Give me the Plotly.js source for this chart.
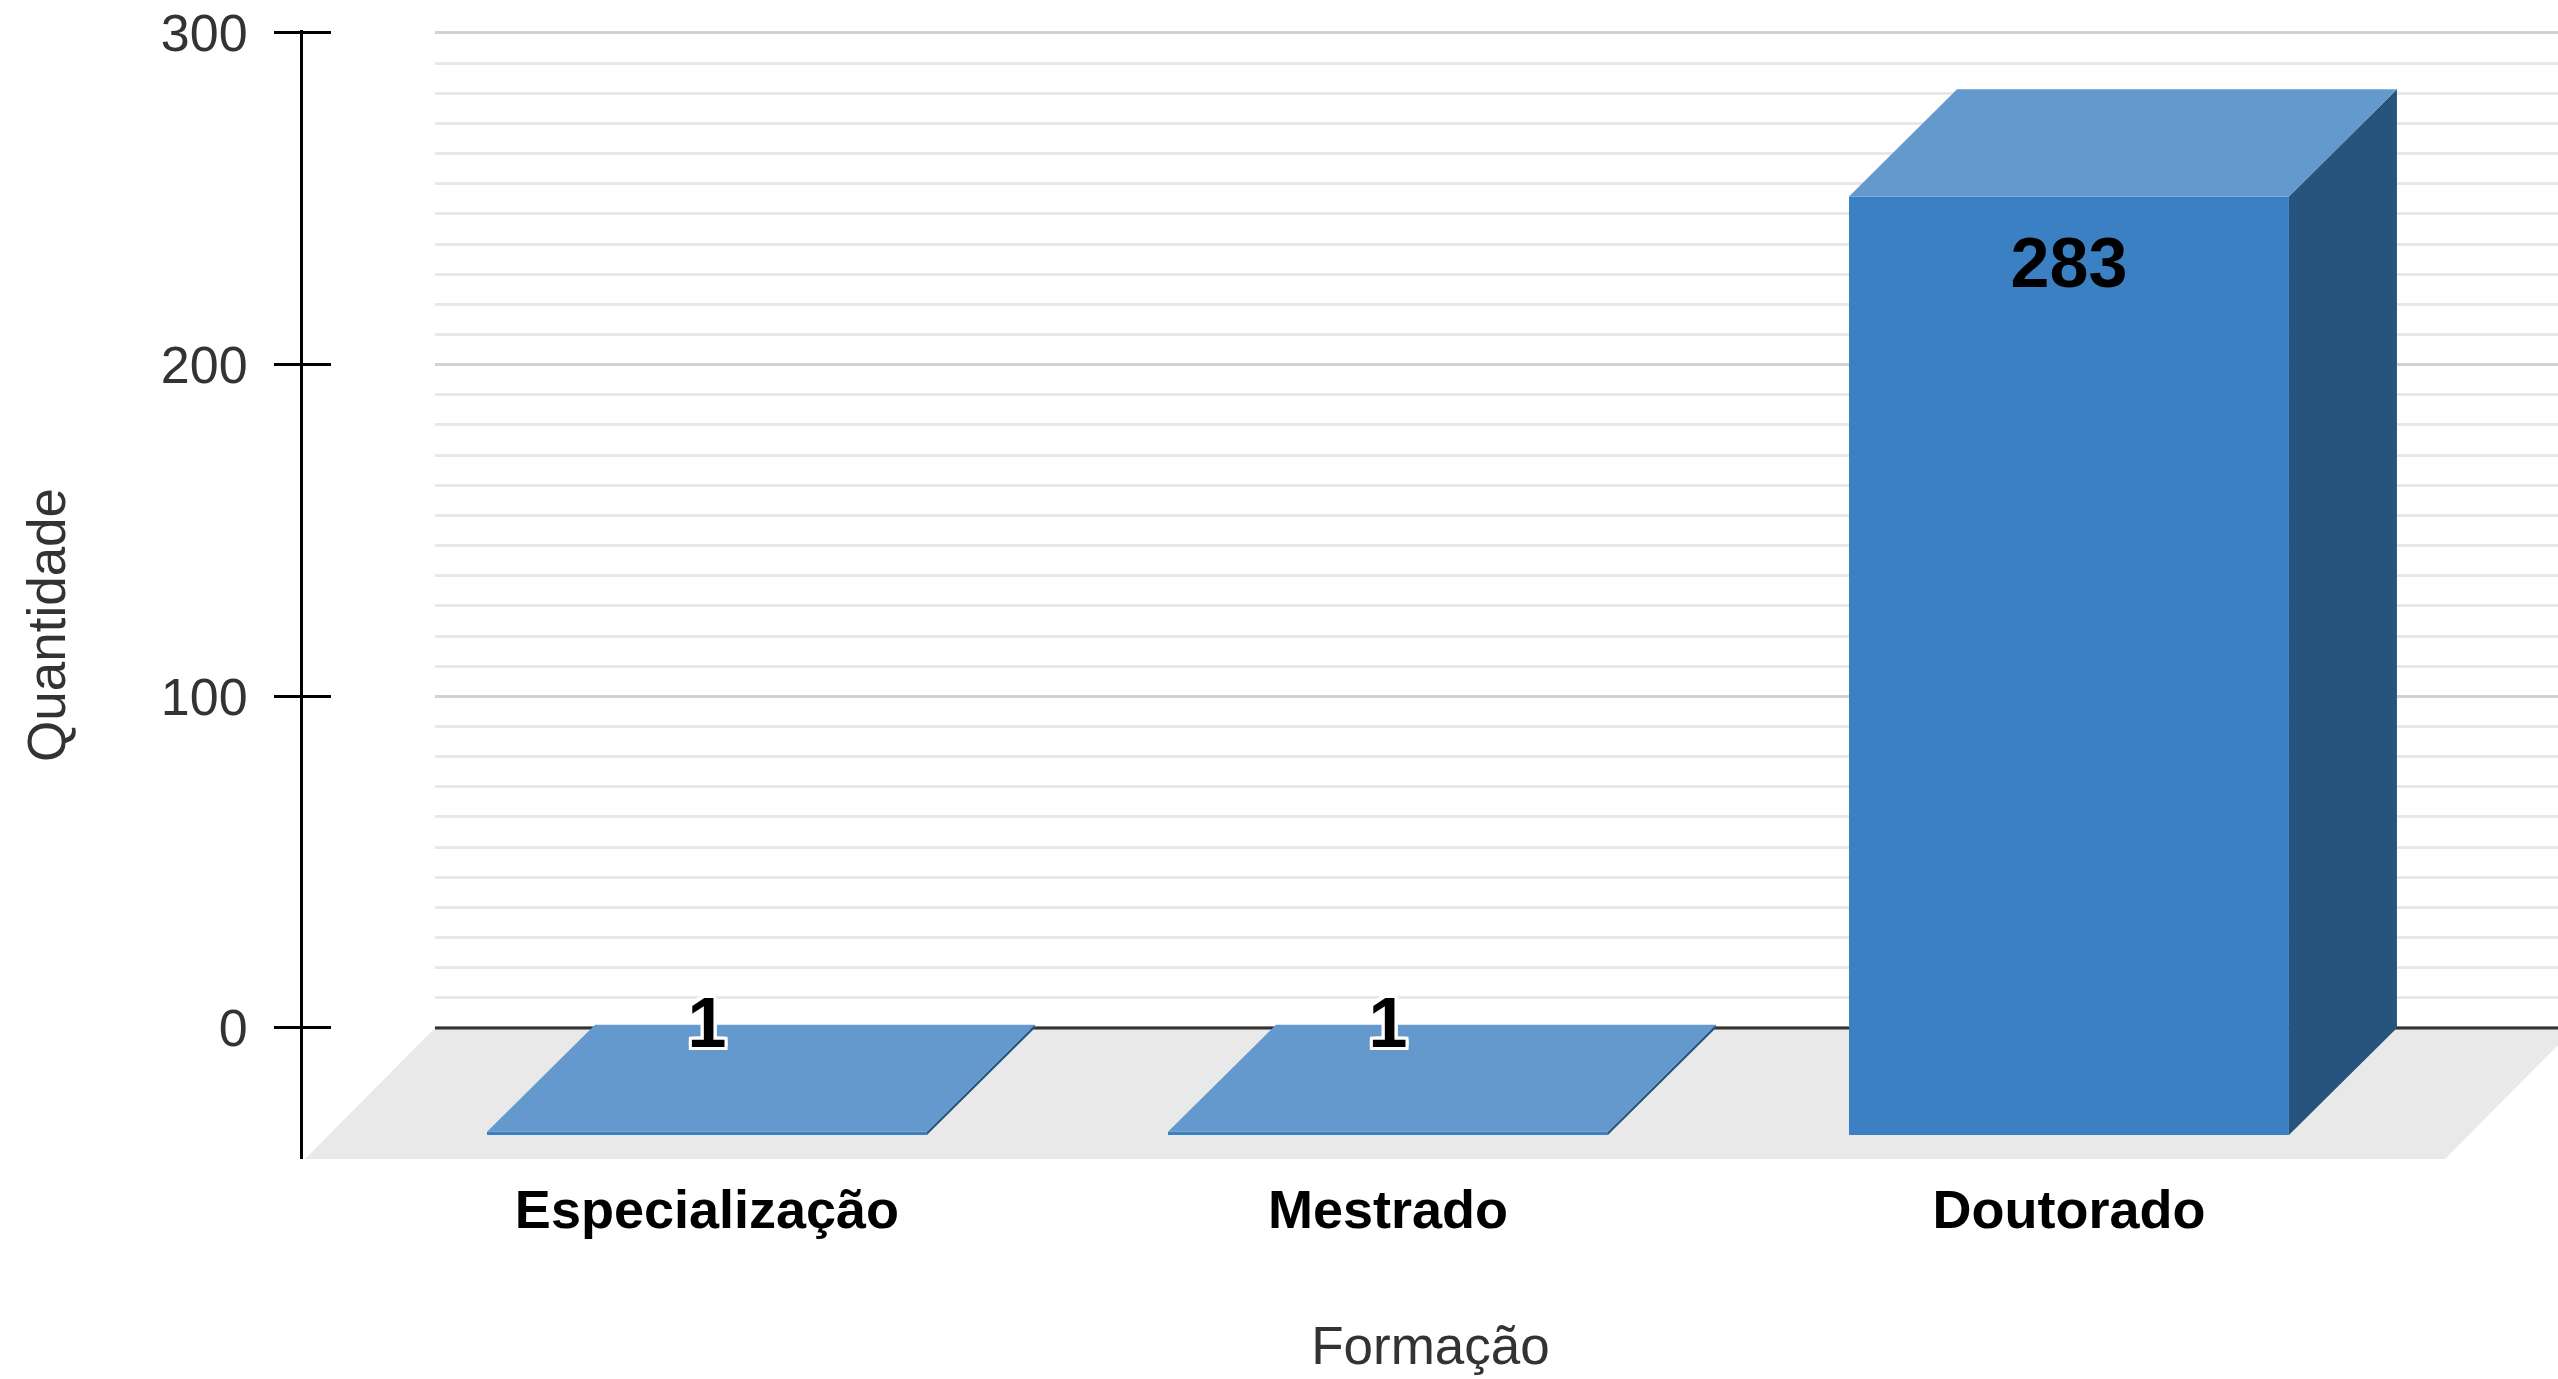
<!DOCTYPE html>
<html>
<head>
<meta charset="utf-8">
<script src="https://cdn.plot.ly/plotly-3.0.1.min.js"></script>
<style>html,body{margin:0;padding:0;background:#fff;}#chart{width:2558px;height:1379px;}</style>
</head>
<body>
<div id="chart"></div>
<script>
// ---- data ----
const categories = ['Especialização', 'Mestrado', 'Doutorado'];
const values = [1, 1, 283];
const yTickVals = [0, 100, 200, 300];
const xTitle = 'Formação';
const yTitle = 'Quantidade';

// ---- 3D look (style / geometry constants, in axis units) ----
const X_RANGE = [-0.7518, 2.5595];
const Y_RANGE = [-39.5, 300.9];
const BAR_W = 0.646;      // column width
const DX = 0.1586;        // oblique depth shift of a column (x)
const DY = 32.3;          // oblique depth shift of a column (y)
const FLOOR_DX = 0.191, FLOOR_DY = 39.5;
const WALL_X = -0.558;    // left edge of back wall
const FLOOR_RIGHT = 2.3935;
const C_FRONT = '#3b80c2', C_TOP = '#6499ce', C_SIDE = '#26547d';
const FONT = 'Liberation Sans, Arial, sans-serif';

function poly(list) {
  const x = [], y = [];
  list.forEach(p => { p.forEach(q => { x.push(q[0]); y.push(q[1]); }); x.push(p[0][0]); y.push(p[0][1]); x.push(null); y.push(null); });
  return {x, y};
}
function face(list, color, lw) {
  const p = poly(list);
  return {type: 'scatter', mode: 'lines', x: p.x, y: p.y, fill: 'toself', fillcolor: color,
          line: {color: color, width: lw || 0}, hoverinfo: 'skip', showlegend: false, connectgaps: false};
}

const tops = [], sides = [], fronts = [];
values.forEach((v, i) => {
  const xL = i - BAR_W / 2, xR = i + BAR_W / 2;
  tops.push([[xL, v], [xR, v], [xR - DX, v - DY], [xL - DX, v - DY]]);
  sides.push([[xR, v], [xR, 0], [xR - DX, -DY], [xR - DX, v - DY]]);
  fronts.push([[xL - DX, -DY], [xR - DX, -DY], [xR - DX, v - DY], [xL - DX, v - DY]]);
});

const XR = X_RANGE[1] + 0.03;
const OV = 0.012; // small overlap so the white areas slide under the floor (no seams)
const leftWall = face([[[X_RANGE[0] - 0.03, Y_RANGE[1] + 2], [WALL_X, Y_RANGE[1] + 2], [WALL_X, 0], [WALL_X + OV, 0],
  [WALL_X - FLOOR_DX + OV, -FLOOR_DY - 2], [X_RANGE[0] - 0.03, -FLOOR_DY - 2]]], '#ffffff');
const rightGap = face([[[FLOOR_RIGHT - OV, -FLOOR_DY - 2], [XR, -FLOOR_DY - 2], [XR, 0], [FLOOR_RIGHT + FLOOR_DX - OV, 0]]], '#ffffff');
const floor = face([[[WALL_X, 0], [FLOOR_RIGHT + FLOOR_DX, 0], [FLOOR_RIGHT, -FLOOR_DY], [WALL_X - FLOOR_DX, -FLOOR_DY]]], '#e9e9e9');
const zeroLine = {type: 'scatter', mode: 'lines', x: [WALL_X, XR], y: [0, 0],
                  line: {color: '#333333', width: 3}, hoverinfo: 'skip', showlegend: false};

// value labels: inside the front face for tall columns, at the top for tiny ones
const inX = [], inY = [], inT = [], outX = [], outY = [], outT = [];
values.forEach((v, i) => {
  if (v > 30) { inX.push(i - DX); inY.push(v - DY - 22); inT.push(String(v)); }
  else { outX.push(i - DX); outY.push(v - 1.5); outT.push(String(v)); }
});
const labelFont = {family: FONT, size: 70, weight: 'bold', color: '#000000'};
const insideLabels = {type: 'scatter', mode: 'text', x: inX, y: inY, text: inT, textposition: 'middle center',
                      textfont: labelFont, hoverinfo: 'skip', showlegend: false, cliponaxis: false};
const outsideLabels = {type: 'scatter', mode: 'text', x: outX, y: outY, text: outT, textposition: 'middle center',
                       textfont: Object.assign({}, labelFont, {shadow: '3px 0 0 #fff, -3px 0 0 #fff, 0 3px 0 #fff, 0 -3px 0 #fff, 3px 3px 0 #fff, -3px -3px 0 #fff, 3px -3px 0 #fff, -3px 3px 0 #fff'}),
                       hoverinfo: 'skip', showlegend: false, cliponaxis: false};
const innerTicks = {type: 'scatter', mode: 'lines', x: [], y: [], yaxis: 'y2', hoverinfo: 'skip', showlegend: false};

const data = [leftWall, rightGap, floor, zeroLine,
  face(sides, C_SIDE), face(fronts, C_FRONT), face(tops, C_TOP),
  insideLabels, outsideLabels, innerTicks];

const layout = {
  width: 2558, height: 1379,
  margin: {l: 303, r: 0, t: 30, b: 220, pad: 0},
  paper_bgcolor: '#ffffff', plot_bgcolor: '#ffffff',
  font: {family: FONT, color: '#333333'},
  showlegend: false,
  xaxis: {
    range: X_RANGE, autorange: false, fixedrange: true,
    showgrid: false, zeroline: false, showline: false, ticks: '',
    tickvals: categories.map((c, i) => i - DX), ticktext: categories,
    tickfont: {family: FONT, size: 54, weight: 'bold', color: '#000000'},
    ticklabelstandoff: 14,
    title: {text: xTitle, font: {family: FONT, size: 53, color: '#333333'}, standoff: 88}
  },
  yaxis: {
    range: Y_RANGE, autorange: false, fixedrange: true,
    tickvals: yTickVals, ticks: 'outside', ticklen: 26, tickwidth: 3, tickcolor: '#000000',
    showline: true, linecolor: '#000000', linewidth: 3,
    showgrid: true, gridcolor: '#d2d2d2', gridwidth: 3, zeroline: false,
    minor: {dtick: 100 / 11, showgrid: true, gridcolor: '#e8e8e8', gridwidth: 3},
    tickfont: {family: FONT, size: 52, color: '#333333'},
    ticklabelstandoff: 16
  },
  yaxis2: {
    overlaying: 'y', anchor: 'x', side: 'left',
    range: Y_RANGE, autorange: false, fixedrange: true,
    tickvals: yTickVals, ticks: 'inside', ticklen: 28, tickwidth: 3, tickcolor: '#000000',
    showticklabels: false, showgrid: false, zeroline: false, showline: false
  },
  annotations: [{
    text: yTitle, textangle: -90, showarrow: false,
    xref: 'paper', yref: 'paper', x: (46 - 303) / 2255, y: (1159 - 625) / 1129,
    xanchor: 'center', yanchor: 'middle',
    font: {family: FONT, size: 53, color: '#333333'}
  }]
};

Plotly.newPlot('chart', data, layout, {staticPlot: true, displayModeBar: false});
</script>
</body>
</html>
